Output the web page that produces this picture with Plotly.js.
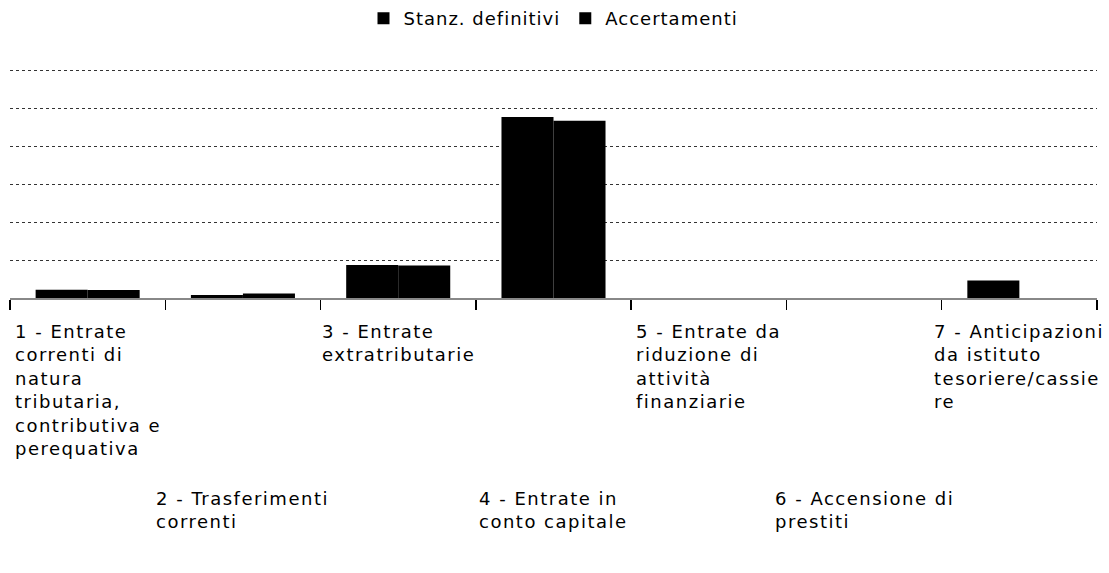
<!DOCTYPE html>
<html>
<head>
<meta charset="utf-8">
<script src="https://cdn.plot.ly/plotly-3.0.1.min.js"></script>
<style>
    body { margin: 0; background: #fff; }
    .legendtext { letter-spacing: 1px; }
    .annotation-text { letter-spacing: 1.5px; }
</style>
</head>
<body>
<div id="chart"></div>
<script>
// category labels, one entry per line as they are wrapped in the picture
const categoryLines = [
    ["1 - Entrate", "correnti di", "natura", "tributaria,", "contributiva e", "perequativa"],
    ["2 - Trasferimenti", "correnti"],
    ["3 - Entrate", "extratributarie"],
    ["4 - Entrate in", "conto capitale"],
    ["5 - Entrate da", "riduzione di", "attività", "finanziarie"],
    ["6 - Accensione di", "prestiti"],
    ["7 - Anticipazioni", "da istituto", "tesoriere/cassie", "re"]
];
const categories = categoryLines.map(lines => lines.join(" "));

const seriesNames = ["Stanz. definitivi", "Accertamenti"];
const stanzDefinitivi = [0.22, 0.08, 0.87, 4.78, 0, 0, 0.46];
const accertamenti = [0.21, 0.12, 0.86, 4.68, 0, 0, 0];

drawChart();

function drawChart() {
    const fontFamily = "DejaVu Sans";

    const chartData = [
        {
            x: categories,
            y: stanzDefinitivi,
            type: "bar",
            name: seriesNames[0],
            marker: { color: "#000" },
        },
        {
            x: categories,
            y: accertamenti,
            type: "bar",
            name: seriesNames[1],
            marker: { color: "#000" },
        }
    ];

    // staggered labels: centred under the category, lines left aligned
    const annotations = categoryLines.map((lines, i) => ({
        x: categories[i],
        xref: "x",
        y: 0,
        yref: "paper",
        xanchor: "center",
        yanchor: "top",
        yshift: i % 2 === 0 ? -21 : -188,
        align: "left",
        showarrow: false,
        text: lines.join("<br>"),
        font: { family: fontFamily, size: 18, color: "#000" },
    }));

    const layout = {
        width: 1109,
        height: 573,
        margin: { l: 10, r: 12, t: 67, b: 275 },
        paper_bgcolor: "#fff",
        plot_bgcolor: "#fff",
        font: { family: fontFamily, size: 18, color: "#000" },
        barmode: "group",
        bargap: 0.33,
        bargroupgap: 0,
        showlegend: true,
        legend: {
            orientation: "h",
            x: 0.5,
            xanchor: "center",
            yref: "container",
            y: 1,
            yanchor: "top",
            font: { family: fontFamily, size: 18, color: "#000" },
        },
        xaxis: {
            type: "category",
            range: [-0.5, categories.length - 0.5],
            autorange: false,
            showticklabels: false,
            showgrid: false,
            showline: true,
            linecolor: "#888",
            linewidth: 1.5,
            ticks: "outside",
            tickson: "boundaries",
            ticklen: 10,
            tickwidth: 1.5,
            tickcolor: "#000",
            fixedrange: true,
        },
        yaxis: {
            range: [0, 6.1],
            autorange: false,
            dtick: 1,
            showticklabels: false,
            showgrid: true,
            gridcolor: "#333",
            griddash: "dot",
            gridwidth: 1,
            zeroline: false,
            showline: false,
            ticks: "",
            fixedrange: true,
        },
        annotations: annotations,
    };

    Plotly.newPlot(document.getElementById("chart"), chartData, layout, { displayModeBar: false, staticPlot: true });
}
</script>
</body>
</html>
